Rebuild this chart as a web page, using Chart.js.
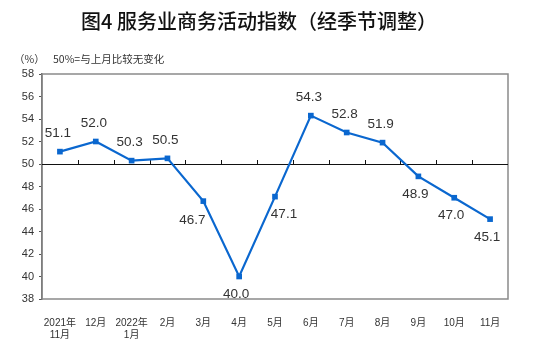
<!DOCTYPE html>
<html>
<head>
<meta charset="utf-8">
<script src="https://cdn.jsdelivr.net/npm/chart.js@4/dist/chart.umd.min.js"></script>
<style>
  html, body { margin: 0; padding: 0; background: #fff; }
</style>
</head>
<body>
<canvas id="graf" width="550" height="341"></canvas>
<script>
// 服务业商务活动指数 2021-11 ~ 2022-11
const meses = [['2021年', '11月'], '12月', ['2022年', '1月'], '2月', '3月', '4月', '5月', '6月', '7月', '8月', '9月', '10月', '11月']
const indice = [51.1, 52.0, 50.3, 50.5, 46.7, 40.0, 47.1, 54.3, 52.8, 51.9, 48.9, 47.0, 45.1]
const escalaY = { min: 38, max: 58, passo: 2 }
const linhaBase = 50

// where each value label sits relative to its point
const lugarRotulo = ['top', 'top', 'top', 'top', 'bottom-left', 'bottom', 'bottom-right', 'top', 'top', 'top', 'bottom', 'bottom', 'bottom']
const deslocamento = {
    'top': [-2, -18],
    'bottom': [-3, 18],
    'bottom-left': [-11, 19],
    'bottom-right': [9, 18]
}

const fonteCJK = '"Liberation Sans", "Noto Sans CJK SC", sans-serif'
const azul = '#0a67cf'

const desenhos = {
    id: 'desenhos',
    beforeDraw(chart) {
        const ctx = chart.ctx
        ctx.save()
        ctx.fillStyle = '#111'
        ctx.textAlign = 'center'
        ctx.textBaseline = 'middle'
        ctx.font = '500 20px "Noto Sans CJK SC"'
        ctx.fillText('图4 服务业商务活动指数（经季节调整）', 259, 21)

        ctx.fillStyle = '#333'
        ctx.textAlign = 'left'
        ctx.font = '10.5px "Noto Sans CJK SC"'
        ctx.fillText('（%）', 14, 59)
        ctx.fillText('50%=与上月比较无变化', 53, 59)
        ctx.restore()
    },
    beforeDatasetsDraw(chart) {
        const ctx = chart.ctx
        const area = chart.chartArea
        const x = chart.scales.x
        const y0 = chart.scales.y.getPixelForValue(linhaBase)
        ctx.save()
        // plot frame
        ctx.strokeStyle = '#8a8a8a'
        ctx.lineWidth = 1.5
        ctx.strokeRect(area.left, area.top, area.right - area.left, area.bottom - area.top)

        // 50 reference line with category ticks
        ctx.strokeStyle = '#111'
        ctx.lineWidth = 1
        ctx.beginPath()
        ctx.moveTo(area.left, y0 + 0.5)
        ctx.lineTo(area.right, y0 + 0.5)
        for (let i = 1; i < meses.length; i++) {
            const px = Math.round((x.getPixelForValue(i - 1) + x.getPixelForValue(i)) / 2) + 0.5
            ctx.moveTo(px, y0)
            ctx.lineTo(px, y0 - 4)
        }
        ctx.stroke()
        ctx.restore()
    },
    afterDatasetsDraw(chart) {
        const ctx = chart.ctx
        const pontos = chart.getDatasetMeta(0).data
        ctx.save()
        ctx.fillStyle = '#333'
        ctx.font = '13.5px "Liberation Sans", Arial, sans-serif'
        ctx.textAlign = 'center'
        ctx.textBaseline = 'middle'
        pontos.forEach((p, i) => {
            const d = deslocamento[lugarRotulo[i]]
            ctx.fillText(indice[i].toFixed(1), p.x + d[0], p.y + d[1])
        })
        ctx.restore()
    }
}

const ticksY = []
for (let v = escalaY.min; v <= escalaY.max; v += escalaY.passo) ticksY.push(v)

new Chart(document.getElementById('graf').getContext('2d'), {
    type: 'line',
    data: {
        labels: meses,
        datasets: [{
            data: indice,
            borderColor: azul,
            backgroundColor: azul,
            borderWidth: 2.2,
            pointStyle: 'rect',
            pointRadius: 4,
            pointBackgroundColor: azul,
            pointBorderWidth: 0,
            tension: 0
        }]
    },
    options: {
        responsive: false,
        animation: false,
        devicePixelRatio: 1,
        layout: { padding: { top: 74, right: 42, left: 0, bottom: 0 } },
        plugins: {
            legend: { display: false },
            tooltip: { enabled: false }
        },
        scales: {
            x: {
                offset: true,
                grid: { display: false, offset: true },
                border: { display: false },
                ticks: {
                    color: '#333',
                    padding: 10,
                    autoSkip: false,
                    maxRotation: 0,
                    font: { family: fonteCJK, size: 10, lineHeight: 1.2 }
                },
                afterFit(s) { s.height = 42 }
            },
            y: {
                min: escalaY.min,
                max: escalaY.max,
                afterBuildTicks(s) { s.ticks = ticksY.map(v => ({ value: v })) },
                grid: { drawOnChartArea: false, drawTicks: true, tickLength: 3, color: '#555' },
                border: { display: true, color: '#555', width: 1.5 },
                ticks: {
                    color: '#333',
                    padding: 5,
                    font: { family: '"Liberation Sans", Arial, sans-serif', size: 11 }
                },
                afterFit(s) { s.width = 42 }
            }
        }
    },
    plugins: [desenhos]
})
</script>
</body>
</html>
